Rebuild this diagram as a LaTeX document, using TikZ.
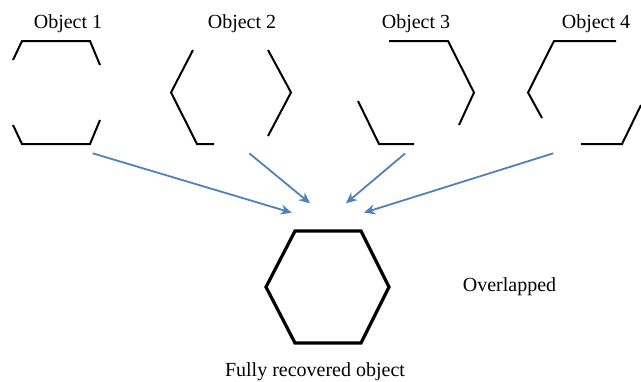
\documentclass[tikz,border=0pt]{standalone}
\usepackage{fontspec}
\setmainfont{Liberation Serif}
\usepackage{tikz}
\usetikzlibrary{arrows.meta}
\definecolor{arrowblue}{HTML}{4F81BD}
\tikzset{
	part/.style={line width=1pt, line join=miter},
	whole/.style={line width=1.6pt, line join=miter},
	feed/.style={arrowblue, line width=0.9pt, -{Stealth[length=5.5pt, width=5pt]}},
	caption/.style={anchor=base, font=\fontsize{10}{12}\selectfont}
}

\begin{document}
\begin{tikzpicture}[x=0.5pt, y=-0.5pt]
		%%%%% START %%%%%
		\useasboundingbox (0, 0) rectangle (641, 381);
		
		% labels
		\node[caption] (obj1) at (68, 28) {Object 1};
		\node[caption] (obj2) at (242, 28) {Object 2};
		\node[caption] (obj3) at (416, 28) {Object 3};
		\node[caption] (obj4) at (596, 28) {Object 4};
		\node[caption] (over) at (509.5, 291.5) {Overlapped};
		\node[caption] (full) at (315, 376) {Fully recovered object};
		
		% object 1
		\draw[part] (13, 60) -- (22, 41) -- (90, 41) -- (100, 65);
		\draw[part] (13, 125) -- (22, 144) -- (90, 144) -- (100, 120);
		
		% object 2
		\draw[part] (193, 50) -- (171, 92.5) -- (197, 144) -- (214, 144);
		\draw[part] (268, 50) -- (291, 92.5) -- (268, 136);
		
		% object 3
		\draw[part] (389, 41) -- (448, 41) -- (474, 92.5) -- (459, 125);
		\draw[part] (358, 101) -- (379, 144) -- (414, 144);
		
		% object 4
		\draw[part] (542, 118) -- (528, 92.5) -- (554, 41) -- (616, 41);
		\draw[part] (581, 144) -- (622, 144) -- (641, 105);
		
		% recovered hexagon
		\draw[whole] (295, 231) -- (361, 231) -- (389, 287) -- (361, 343)
			-- (295, 343) -- (266, 287) -- cycle;
		
		% arrows
		\coordinate (s1) at (92.7, 153.3);
		\coordinate (s2) at (249.3, 153.3);
		\coordinate (s3) at (405, 153.5);
		\coordinate (s4) at (553.3, 153.3);
		\coordinate (e1) at (291.7, 212.7);
		\coordinate (e2) at (310, 203.3);
		\coordinate (e3) at (346, 203.3);
		\coordinate (e4) at (364, 212.7);
		\draw[feed] (s1) -- (e1);
		\draw[feed] (s2) -- (e2);
		\draw[feed] (s3) -- (e3);
		\draw[feed] (s4) -- (e4);
		%%%%% END %%%%%
	\end{tikzpicture}
\end{document}
